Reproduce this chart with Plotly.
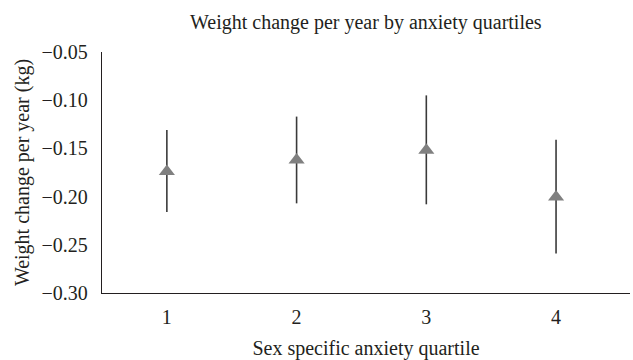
import plotly.graph_objects as go

quartiles = [1, 2, 3, 4]
means = [-0.174, -0.162, -0.152, -0.2005]
upper = [-0.131, -0.117, -0.095, -0.141]
lower = [-0.216, -0.207, -0.208, -0.259]
tick_labels = ["1", "2", "3", "4"]
y_ticks = [-0.30, -0.25, -0.20, -0.15, -0.10, -0.05]
y_tick_labels = ["\u22120.30", "\u22120.25", "\u22120.20", "\u22120.15", "\u22120.10", "\u22120.05"]

err_plus = [u - m for u, m in zip(upper, means)]
err_minus = [m - l for m, l in zip(means, lower)]

FONT = "Liberation Serif"
fig = go.Figure()
fig.add_trace(go.Scatter(
    x=quartiles, y=means, mode="markers",
    marker=dict(symbol="triangle-up", size=14, color="#808080", line=dict(width=0)),
    error_y=dict(type="data", array=err_plus, arrayminus=err_minus, symmetric=False,
                 width=0, thickness=1.6, color="#3a3a3a"),
    showlegend=False,
))

fig.update_layout(
    width=633, height=360,
    margin=dict(l=102, r=3, t=52, b=60),
    paper_bgcolor="white", plot_bgcolor="white",
    font=dict(family=FONT, size=20, color="#231f20"),
    title=dict(text="Weight change per year by anxiety quartiles", x=0.578, xanchor="center",
               y=1 - 22 / 360, yanchor="middle", yref="container",
               font=dict(family=FONT, size=20, color="#231f20")),
    xaxis=dict(range=[0.5, 4.57], tickvals=quartiles, ticktext=tick_labels,
               showgrid=False, zeroline=False, showline=True, linecolor="#231f20", linewidth=1.3,
               ticks="", ticklabelstandoff=6,
               title=dict(text="Sex specific anxiety quartile", standoff=15,
                          font=dict(family=FONT, size=20))),
    yaxis=dict(range=[-0.30, -0.05], tickvals=y_ticks, ticktext=y_tick_labels,
               showgrid=False, zeroline=False, showline=True, linecolor="#231f20", linewidth=1.3,
               ticks="", ticklabelstandoff=9,
               title=dict(text="Weight change per year (kg)", standoff=6,
                          font=dict(family=FONT, size=20))),
)

fig.write_html("out.html")
